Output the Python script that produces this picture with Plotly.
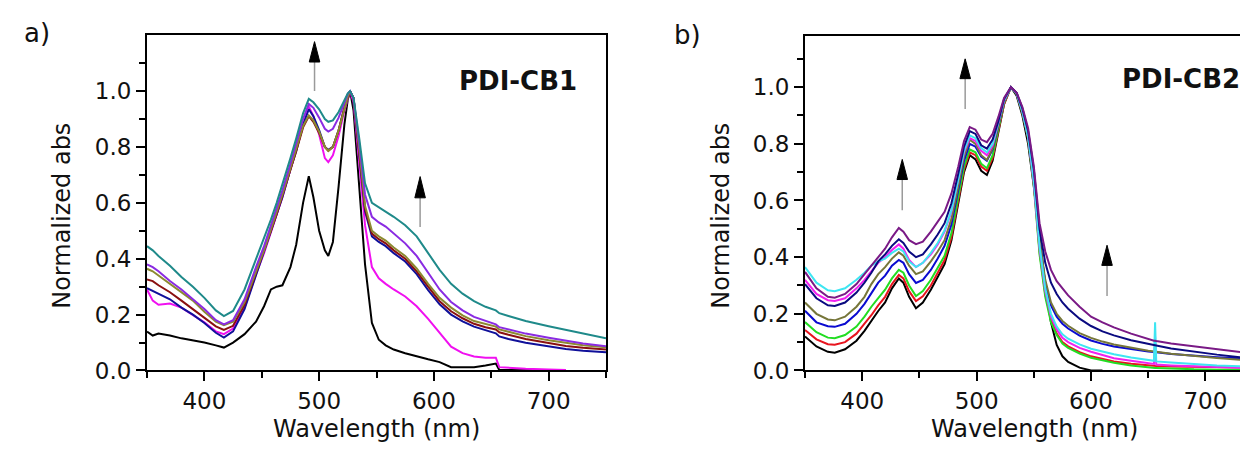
import plotly.graph_objects as go

# ---------------- Panel a: PDI-CB1 ----------------
WL_A = [350, 355, 360, 370, 380, 390, 400, 410, 417, 425, 435, 445, 452, 458, 463, 468, 475, 480, 486, 491,
        495, 500, 505, 508, 512, 517, 522, 525, 527, 530, 535, 540, 546, 552, 558, 565, 575, 585, 595, 605,
        615, 625, 635, 645, 654, 657, 665, 680, 700, 715, 730, 750]

A_BLACK = [.139, .125, .132, .125, .115, .108, .100, .090, .082, .100, .130, .175, .230, .290, .300, .305, .370, .450, .600, .695,
           .620, .500, .430, .410, .460, .660, .880, .970, 1.0, .930, .650, .380, .170, .110, .090, .075, .062, .050, .040, .030,
           .012, .012, .012, .018, .025, .002, .002, .001, .0, .0, None, None]
A_MAGENTA = [.290, .250, .235, .240, .225, .200, .172, .140, .130, .150, .225, .345, .420, .495, .555, .620, .720, .790, .880, .945,
             .910, .845, .760, .746, .770, .840, .930, .975, 1.0, .960, .740, .520, .370, .330, .310, .290, .265, .230, .185, .135,
             .085, .062, .050, .046, .046, .012, .009, .006, .004, .002, None, None]
A_BLUE = [.295, .285, .275, .255, .225, .200, .170, .135, .118, .140, .220, .340, .420, .495, .555, .620, .720, .785, .880, .935,
          .910, .860, .800, .790, .800, .860, .940, .980, 1.0, .975, .780, .570, .480, .460, .445, .420, .390, .345, .288, .237,
          .200, .176, .157, .143, .133, .122, .113, .099, .085, .077, .071, .065]
A_MAROON = [.326, .320, .305, .280, .250, .220, .190, .158, .145, .160, .235, .350, .425, .500, .560, .625, .720, .785, .870, .910,
            .890, .850, .800, .786, .800, .860, .940, .980, 1.0, .975, .785, .580, .490, .470, .455, .430, .400, .355, .300, .248,
            .212, .187, .167, .155, .147, .137, .128, .113, .098, .088, .081, .075]
A_OLIVE = [.364, .355, .340, .310, .280, .250, .210, .175, .162, .175, .245, .355, .430, .505, .565, .630, .725, .790, .875, .913,
           .895, .855, .800, .786, .800, .860, .940, .980, 1.0, .975, .790, .590, .500, .480, .465, .440, .410, .365, .310, .260,
           .225, .197, .177, .165, .157, .147, .138, .123, .108, .098, .090, .083]
A_PURPLE = [.380, .370, .355, .320, .290, .255, .220, .180, .165, .180, .255, .370, .445, .520, .580, .645, .740, .810, .900, .954,
            .940, .905, .865, .855, .865, .905, .960, .990, 1.0, .975, .810, .630, .550, .530, .515, .490, .455, .410, .350, .290,
            .245, .215, .192, .177, .165, .155, .147, .132, .117, .106, .097, .087]
A_TEAL = [.445, .430, .410, .375, .335, .300, .260, .215, .195, .213, .290, .400, .470, .540, .600, .665, .760, .830, .920, .972,
          .960, .935, .900, .890, .895, .925, .970, .992, 1.0, .975, .830, .670, .600, .585, .570, .550, .520, .480, .420, .360,
          .310, .275, .248, .228, .215, .205, .195, .177, .158, .145, .132, .115]

SERIES_A = [("black", A_BLACK, "#000000"), ("magenta", A_MAGENTA, "#f010f0"), ("blue", A_BLUE, "#10109a"),
            ("maroon", A_MAROON, "#8a1010"), ("olive", A_OLIVE, "#8c8a30"), ("purple", A_PURPLE, "#8a2be2"),
            ("teal", A_TEAL, "#1f8a8a")]

# ---------------- Panel b: PDI-CB2 ----------------
WL_B = [350, 360, 370, 376, 385, 395, 402, 408, 414, 420, 426, 432, 436, 441, 447, 453, 460, 466, 472, 478,
        484, 489, 494, 499, 504, 509, 514, 519, 524, 530, 535, 540, 545, 550, 555, 560, 565, 570, 575, 580,
        590, 600, 610, 620, 635, 650, 655, 656, 657, 670, 690, 710, 730, 744, 750]

B_BLACK = [.120, .085, .066, .063, .075, .105, .140, .175, .210, .240, .290, .325, .310, .260, .220, .240, .285, .330, .375, .460,
           .590, .700, .760, .745, .705, .690, .740, .840, .940, 1.0, .970, .900, .800, .650, .470, .300, .170, .090, .050, .030,
           .010, .0, .0, None, None, None, None, None, None, None, None, None, None, None, None]
B_RED = [.143, .110, .093, .091, .100, .130, .165, .195, .230, .260, .305, .337, .325, .280, .245, .262, .300, .345, .390, .470,
         .600, .710, .770, .760, .720, .705, .750, .845, .940, 1.0, .975, .910, .820, .660, .420, .270, .180, .130, .100, .085,
         .065, .050, .040, .032, .024, .018, .017, .017, .016, .014, .012, .011, .010, .009, .009]
B_GREEN = [.171, .135, .116, .114, .125, .155, .190, .225, .255, .285, .325, .355, .345, .300, .263, .280, .320, .360, .405, .485,
           .610, .720, .780, .770, .730, .714, .760, .850, .945, 1.0, .975, .910, .820, .650, .410, .260, .170, .125, .095, .080,
           .060, .045, .035, .027, .018, .010, .009, .009, .009, .006, .004, .003, .002, .002, .002]
B_BLUE = [.211, .170, .156, .154, .165, .200, .235, .275, .310, .335, .370, .390, .380, .340, .309, .320, .355, .395, .440, .515,
          .635, .740, .800, .790, .755, .740, .780, .860, .950, 1.0, .978, .915, .830, .670, .450, .310, .230, .190, .165, .148,
          .123, .106, .094, .085, .075, .067, .065, .065, .064, .058, .052, .047, .043, .040, .039]
B_OLIVE = [.240, .200, .180, .177, .190, .225, .260, .305, .340, .365, .395, .417, .405, .370, .340, .350, .385, .420, .460, .535,
           .650, .755, .815, .800, .760, .743, .785, .865, .950, 1.0, .978, .915, .830, .680, .460, .320, .240, .200, .175, .158,
           .132, .115, .102, .092, .080, .070, .067, .067, .066, .059, .051, .044, .038, .035, .034]
B_MAGENTA = [.320, .270, .248, .245, .255, .290, .320, .350, .380, .400, .425, .445, .430, .390, .365, .380, .410, .445, .490, .560,
             .670, .770, .820, .810, .775, .760, .795, .870, .952, 1.0, .978, .915, .825, .660, .430, .280, .190, .145, .115, .100,
             .080, .066, .055, .043, .034, .026, .023, .120, .021, .018, .014, .012, .010, .009, .009]
B_CYAN = [.365, .310, .283, .280, .290, .320, .345, .370, .385, .395, .415, .430, .420, .385, .365, .380, .415, .450, .495, .565,
          .675, .775, .830, .820, .785, .770, .800, .875, .955, 1.0, .978, .915, .825, .670, .440, .290, .200, .155, .128, .112,
          .092, .077, .066, .057, .046, .037, .034, .170, .032, .028, .022, .018, .015, .013, .013]
B_NAVY = [.305, .255, .230, .228, .240, .275, .310, .345, .385, .410, .440, .463, .450, .420, .400, .410, .445, .480, .520, .590,
          .695, .790, .845, .835, .795, .783, .815, .880, .958, 1.0, .980, .925, .845, .710, .500, .380, .310, .270, .240, .218,
          .183, .157, .138, .124, .107, .093, .089, .089, .088, .078, .066, .056, .047, .042, .040]
B_PURPLE = [.348, .290, .260, .257, .270, .305, .340, .370, .400, .430, .470, .503, .490, .460, .446, .455, .490, .525, .560, .625,
            .720, .810, .859, .850, .815, .806, .835, .895, .962, 1.0, .980, .930, .855, .720, .520, .420, .355, .315, .290, .265,
            .225, .190, .170, .152, .130, .110, .105, .105, .104, .095, .085, .075, .064, .057, .055]

SERIES_B = [("black", B_BLACK, "#000000"), ("red", B_RED, "#e8141e"), ("green", B_GREEN, "#22dd22"),
            ("blue", B_BLUE, "#0a0ad0"), ("olive", B_OLIVE, "#76763a"), ("magenta", B_MAGENTA, "#f020f0"),
            ("cyan", B_CYAN, "#3ee6f2"), ("navy", B_NAVY, "#0a0a80"), ("purple", B_PURPLE, "#7a1a86")]

X_TICKS = [400, 500, 600, 700]
X_MINOR = [350, 450, 550, 650, 750]
Y_TICKS = [0.0, 0.2, 0.4, 0.6, 0.8, 1.0]
Y_MINOR = [0.1, 0.3, 0.5, 0.7, 0.9, 1.1]

# arrows: (x, shaft bottom, head base, head tip)
ARROWS_A = [(496, 1.0, 1.104, 1.177), (588, 0.514, 0.618, 0.694)]
ARROWS_B = [(435, 0.566, 0.674, 0.745), (490, 0.923, 1.03, 1.10), (614, 0.263, 0.371, 0.442)]

FONT = "DejaVu Sans"

fig = go.Figure()
for name, ys, col in SERIES_A:
    fig.add_trace(go.Scatter(x=WL_A, y=ys, mode="lines", name=name, line=dict(color=col, width=2),
                             xaxis="x", yaxis="y", showlegend=False))
for name, ys, col in SERIES_B:
    fig.add_trace(go.Scatter(x=WL_B, y=ys, mode="lines", name=name, line=dict(color=col, width=2),
                             xaxis="x2", yaxis="y2", showlegend=False))

tickfont = dict(family=FONT, size=23, color="#111")


def xaxis(domain, rng, anchor):
    return dict(domain=domain, range=rng, anchor=anchor, tickvals=X_TICKS, ticks="outside", ticklen=9,
                tickwidth=2, tickcolor="black", showline=True, linewidth=2, linecolor="black", mirror=True,
                showgrid=False, zeroline=False, tickfont=tickfont,
                minor=dict(tickvals=X_MINOR, ticks="outside", ticklen=6, tickwidth=2, tickcolor="black", showgrid=False))


def yaxis(domain, rng, anchor, mirror):
    return dict(domain=domain, range=rng, anchor=anchor, tickvals=Y_TICKS, tickformat=".1f", ticks="outside",
                ticklen=9, tickwidth=2, tickcolor="black", showline=True, linewidth=2, linecolor="black",
                mirror=mirror, showgrid=False, zeroline=False, tickfont=tickfont,
                minor=dict(tickvals=Y_MINOR, ticks="outside", ticklen=6, tickwidth=2, tickcolor="black", showgrid=False))


fig.update_layout(
    width=1248, height=449, autosize=False,
    margin=dict(l=0, r=0, t=0, b=0),
    paper_bgcolor="white", plot_bgcolor="white",
    xaxis=xaxis([139 / 1248, 598 / 1248], [350, 750], "y"),
    yaxis=yaxis([0.1686, 0.9376], [0, 1.2], "x", True),
    xaxis2=xaxis([797 / 1248, 1.0], [350, 744.2], "y2"),
    yaxis2=yaxis([0.1686, 0.9354], [0, 1.18], "x2", False),
)

shapes = []
annots = []
for arrows, xr, yr in ((ARROWS_A, "x", "y"), (ARROWS_B, "x2", "y2")):
    for x, y0, yb, yt in arrows:
        shapes.append(dict(type="line", xref=xr, yref=yr, x0=x, x1=x, y0=y0, y1=yb,
                           line=dict(color="#9a9a9a", width=1.5)))
        hw = 4.6
        shapes.append(dict(type="path", xref=xr, yref=yr,
                           path=f"M {x - hw},{yb} L {x},{yt} L {x + hw},{yb} Z",
                           fillcolor="black", line=dict(color="black", width=1)))

texts = [
    ("a)", 29, 26, 26, False, 0),
    ("b)", 679, 28, 26, False, 0),
    ("Normalized abs", 54, 214, 24, False, -90),
    ("Normalized abs", 713, 214, 24, False, -90),
    ("Wavelength (nm)", 368, 434, 24, False, 0),
    ("Wavelength (nm)", 1026, 434, 24, False, 0),
    ("<b>PDI-CB1</b>", 510, 75, 26, True, 0),
    ("<b>PDI-CB2</b>", 1173, 73, 26, True, 0),
]
for t, px, py, sz, b, ang in texts:
    annots.append(dict(text=t, xref="paper", yref="paper", x=px / 1248, y=1 - py / 449,
                       xanchor="center", yanchor="middle", showarrow=False, textangle=ang,
                       font=dict(family=FONT, size=sz, color="#111")))

fig.update_layout(shapes=shapes, annotations=annots)
fig.write_html("out.html")
